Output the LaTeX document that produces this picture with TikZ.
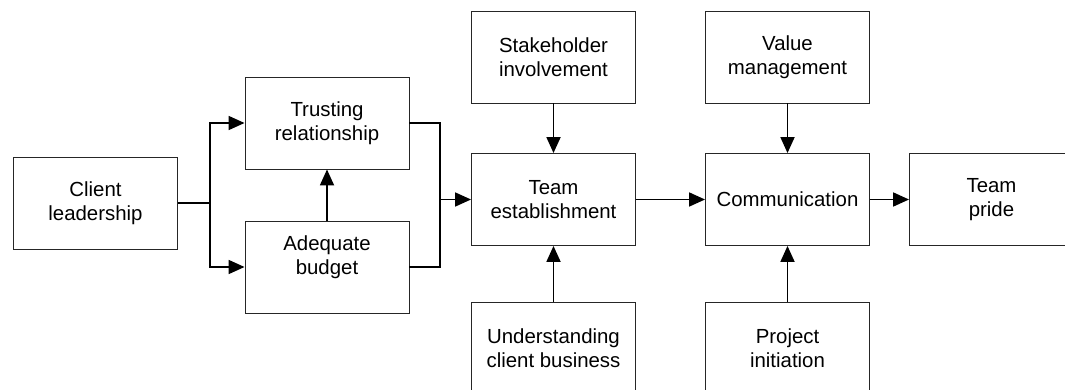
\documentclass[tikz,border=0pt]{standalone}
\usepackage{fontspec}
\setmainfont{Liberation Sans}
\usetikzlibrary{positioning,arrows.meta}

\begin{document}
\begin{tikzpicture}[x=1pt,y=-1pt,
    box/.style={draw=black!85,line width=0.9pt,minimum width=164pt,minimum height=92pt,
                inner sep=0pt,align=center,font=\fontsize{20.4}{23.5}\selectfont},
    link/.style={line width=1.8pt,-{Triangle[length=16pt,width=14pt]}}]
    \useasboundingbox (0,0) rectangle (1065,390);
    % Factor boxes — centres in px, y pointing down
    \foreach \name/\x/\y/\txt in {lead/95.5/203/{Client\\leadership},
                                  trust/327/123/{Trusting\\relationship},
                                  budget/327/267/{Adequate\\budget\\\phantom{b}},
                                  stake/553.5/57/{Stakeholder\\involvement},
                                  team/553.5/199.5/{Team\\establishment},
                                  under/553.5/348/{Understanding\\client business},
                                  value/787.5/57/{Value\\management},
                                  comm/787.5/199.5/{Communication},
                                  proj/787.5/348/{Project\\initiation},
                                  pride/991.5/199.5/{Team\\pride}} {
      \node[box] (\name) at (\x,\y) {\txt};
    }
    \coordinate (split) at (210,203);
    \coordinate (merge) at (440,199.5);
    \draw[line width=1.8pt] (lead.east) -- (split);
    \draw[link] (split) |- (trust.west);
    \draw[link] (split) |- (budget.west);
    \draw[link] (budget) -- (trust);
    \draw[line width=1.8pt] (trust.east) -| (merge) |- (budget.east);
    \draw[link] (merge) -- (team.west);
    \draw[link] (team) -- (comm);
    \draw[link] (comm) -- (pride);
    \foreach \a/\b in {stake/team, under/team, value/comm, proj/comm}
      \draw[link] (\a) -- (\b);
\end{tikzpicture}
\end{document}
